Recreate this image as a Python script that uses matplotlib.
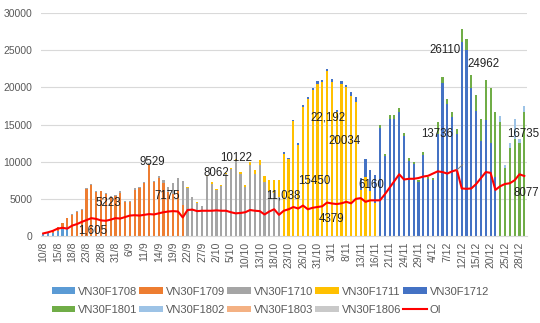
import matplotlib.pyplot as plt
import numpy as np

plt.rcParams['font.family'] = ['Liberation Sans', 'DejaVu Sans']

# trading days, 10/8 - 29/12
dates = ['10/8', '11/8', '14/8', '15/8', '16/8', '17/8', '18/8', '21/8', '22/8', '23/8',
         '24/8', '25/8', '28/8', '29/8', '30/8', '31/8',
         '1/9', '5/9', '6/9', '7/9', '8/9', '11/9', '12/9', '13/9', '14/9', '15/9',
         '18/9', '19/9', '20/9', '21/9', '22/9', '25/9', '26/9', '27/9', '28/9', '29/9',
         '2/10', '3/10', '4/10', '5/10', '6/10', '9/10', '10/10', '11/10', '12/10', '13/10',
         '16/10', '17/10', '18/10', '19/10', '20/10', '23/10', '24/10', '25/10', '26/10',
         '27/10', '30/10', '31/10',
         '1/11', '2/11', '3/11', '6/11', '7/11', '8/11', '9/11', '10/11', '13/11', '14/11',
         '15/11', '16/11', '17/11', '20/11', '21/11', '22/11', '23/11', '24/11', '27/11',
         '28/11', '29/11', '30/11',
         '1/12', '4/12', '5/12', '6/12', '7/12', '8/12', '11/12', '12/12', '13/12', '14/12',
         '15/12', '18/12', '19/12', '20/12', '21/12', '22/12', '25/12', '26/12', '27/12',
         '28/12', '29/12']

contracts = ['VN30F1708', 'VN30F1709', 'VN30F1710', 'VN30F1711', 'VN30F1712',
             'VN30F1801', 'VN30F1802', 'VN30F1803', 'VN30F1806']
colors = ['#5B9BD5', '#ED7D31', '#A5A5A5', '#FFC000', '#4472C4',
          '#70AD47', '#9DC3E6', '#F4B183', '#C9C9C9']

# last trading day of each front month contract
expiry = ['17/8', '21/9', '19/10', '16/11', '21/12']

# volume of the front month and of the next month contract
front_vol = [300, 350, 450, 700, 1000, 1250, 2800, 3200, 3500, 6300,
             6900, 5900, 6000, 5700, 5223, 5400, 5850, 4600, 4600, 6250,
             6450, 7150, 9529, 7200, 7850, 7175, 5900, 5700, 6000, 4200,
             6450, 5200, 4500, 4000, 8062, 7050, 6150, 6750, 8300, 9000,
             10122, 8350, 6650, 9600, 8400, 9500, 7200, 6100, 5800, 5300,
             11038, 10300, 15450, 12300, 17350, 18450, 19600, 20500, 20700, 22192,
             20750, 16650, 20450, 20034, 18900, 18000, 6160, 8000, 6000, 4500,
             14500, 10800, 15800, 15800, 16700, 13400, 10100, 9650, 7250, 10900,
             7700, 7500, 13736, 20600, 17700, 16000, 13700, 26110, 24962, 19900,
             16800, 12800, 15600, 12500, 8000, 15300, 9200, 11800, 13000, 12500,
             16735]
next_vol = [100, 150, 250, 500, 800, 1150, 100, 100, 100, 100,
            100, 100, 100, 100, 100, 100, 150, 100, 100, 150,
            150, 150, 300, 200, 250, 300, 700, 1400, 1800, 3200,
            150, 100, 100, 100, 200, 150, 150, 150, 200, 200,
            200, 250, 250, 400, 500, 700, 900, 1400, 1700, 2300,
            200, 200, 200, 200, 250, 250, 300, 300, 300, 250,
            350, 350, 450, 300, 500, 700, 1600, 2400, 2900, 3700,
            400, 300, 500, 500, 500, 400, 400, 350, 250, 400,
            300, 300, 1650, 800, 700, 700, 700, 1800, 1600, 1800,
            2200, 3000, 5400, 7400, 8700, 800, 400, 700, 2800, 500,
            800]

oi = [350, 500, 700, 1000, 1100, 1000, 1400, 1605, 1900, 2150,
      2400, 2300, 2100, 2050, 2200, 2400, 2350, 2550, 2750, 2800,
      2750, 2850, 2950, 2900, 3050, 3200, 3300, 3350, 3300, 2500,
      3500, 3550, 3350, 3400, 3400, 3400, 3450, 3400, 3400, 3200,
      3050, 3100, 3200, 3500, 3400, 3350, 2900, 3300, 3600, 2850,
      3400, 3600, 3900, 3700, 4100, 3600, 3800, 3900, 4000, 4500,
      4379, 4300, 4400, 4600, 4400, 5000, 5100, 4600, 4800, 4800,
      4800, 5600, 6500, 7400, 8300, 7600, 7700, 7700, 7800, 8000,
      8100, 8400, 8700, 8600, 8400, 8700, 8893, 6400, 6350, 6400,
      7000, 7800, 8600, 8500, 6200, 6700, 7000, 7100, 7500, 8300,
      8077]

# value labels: (series, day, text x, text y, thousands separator)
labels = [('oi', '21/8', 10.2, 800, True),
          ('front', '30/8', 13.6, 4400, False),
          ('front', '12/9', 22.6, 9950, False),
          ('front', '15/9', 25.8, 5400, False),
          ('front', '28/9', 35.9, 8450, False),
          ('front', '6/10', 40.0, 10450, False),
          ('front', '20/10', 50.0, 5500, True),
          ('front', '24/10', 56.3, 7400, False),
          ('front', '2/11', 59.2, 16000, True),
          ('front', '8/11', 62.6, 12800, False),
          ('oi', '3/11', 60.0, 2300, False),
          ('front', '13/11', 68.3, 6900, False),
          ('front', '5/12', 81.9, 13700, False),
          ('front', '12/12', 83.6, 25050, False),
          ('front', '13/12', 91.6, 23150, False),
          ('front', '29/12', 99.7, 13700, False),
          ('oi', '29/12', 100.4, 5800, False)]

n = len(dates)
x = np.arange(n)

# split each day's volume between the contracts
vol = np.zeros((len(contracts), n))
for d in range(n):
    k = 0
    while k < len(expiry) and dates.index(expiry[k]) < d:
        k += 1
    vol[k, d] += front_vol[d]
    vol[k + 1, d] += next_vol[d]

fig = plt.figure(figsize=(5.4, 3.23), dpi=100)
ax = fig.add_axes([0.0757, 0.2693, 0.8996, 0.6904])

handles = []
bottom = np.zeros(n)
for name, col, v in zip(contracts, colors, vol):
    b = ax.bar(x, v, 0.45, bottom=bottom, color=col, label=name, linewidth=0)
    handles.append(b)
    bottom += v
line, = ax.plot(x, oi, color='#FF0000', lw=1.5, label='OI')
handles.append(line)

for series, day, tx, ty, comma in labels:
    d = dates.index(day)
    v = front_vol[d] if series == 'front' else oi[d]
    txt = f'{v:,}' if comma else str(v)
    ax.text(tx, ty, txt, ha='center', va='center', fontsize=8.3, color='#222222',
            clip_on=False)

# leader line for the OI peak
d = oi.index(8893)
ax.plot([d, d + 1.2], [oi[d], oi[d] + 700], color='#7F7F7F', lw=0.7)

ax.set_xlim(-0.5, n - 0.5)
ax.set_ylim(0, 30000)
ax.set_yticks(range(0, 30001, 5000))
ax.set_xticks(x[::3])
ax.set_xticklabels(dates[::3], rotation=90)
ax.tick_params(length=0, colors='#595959', labelsize=7.5)
ax.tick_params(axis='y', pad=6)
ax.tick_params(axis='x', pad=4)
ax.grid(axis='y', color='#D9D9D9', lw=0.8)
ax.set_axisbelow(True)
for s in ['top', 'right', 'left']:
    ax.spines[s].set_visible(False)
ax.spines['bottom'].set_color('#D9D9D9')

# legend filled row by row
order = [0, 5, 1, 6, 2, 7, 3, 8, 4, 9]
fig.legend([handles[i] for i in order], [h.get_label() for h in [handles[i] for i in order]],
           ncol=5, loc='upper left', bbox_to_anchor=(46 / 540, 1 - 281 / 323),
           frameon=False, fontsize=8, handlelength=2.1, handleheight=0.55,
           handletextpad=0.3, columnspacing=0.17, labelspacing=0.75, borderpad=0,
           labelcolor='#595959')

fig.savefig('out.png', dpi=100)
